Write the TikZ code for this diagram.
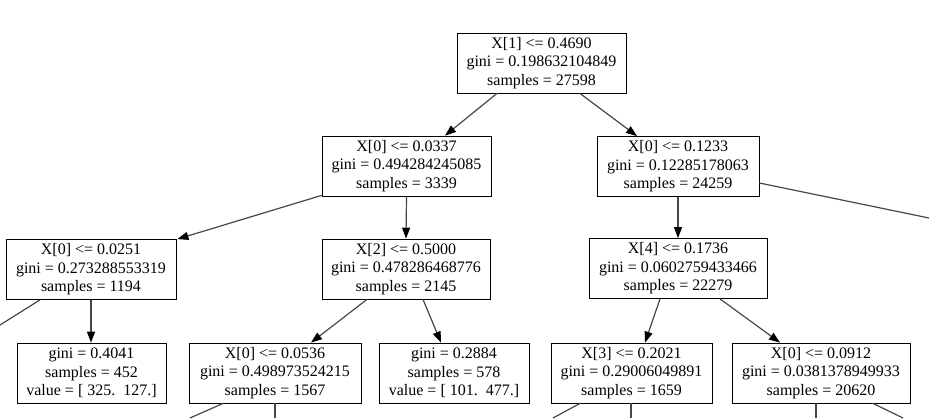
\documentclass[tikz,border=0pt]{standalone}
\usepackage{fontspec}
\setmainfont{Liberation Serif}
\usetikzlibrary{arrows.meta}
\tikzset{
  tbox/.style={draw=black, line width=0.8pt, align=center, inner sep=0pt,
    minimum height=60pt, font=\fontsize{16}{18.5}\selectfont},
  edge/.style={draw=black!72, line width=1.2pt,
    -{Triangle[length=11pt,width=8pt,fill=black,color=black]}},
  stub/.style={draw=black!72, line width=1.2pt}
}
\begin{document}
\begin{tikzpicture}[x=1pt,y=-1pt]
\useasboundingbox (0,0) rectangle (929,418);
\node[tbox, minimum width=169pt] (root) at (541.5,63) {X[1] <= 0.4690\\gini = 0.198632104849\\samples = 27598};
\node[tbox, minimum width=169pt] (n1) at (406.5,166) {X[0] <= 0.0337\\gini = 0.494284245085\\samples = 3339};
\node[tbox, minimum width=162pt] (n2) at (678,166.5) {X[0] <= 0.1233\\gini = 0.12285178063\\samples = 24259};
\node[tbox, minimum width=170pt] (n3) at (91,269.5) {X[0] <= 0.0251\\gini = 0.273288553319\\samples = 1194};
\node[tbox, minimum width=168pt] (n4) at (406,269) {X[2] <= 0.5000\\gini = 0.478286468776\\samples = 2145};
\node[tbox, minimum width=178pt] (n5) at (678,268.5) {X[4] <= 0.1736\\gini = 0.0602759433466\\samples = 22279};
\node[tbox, minimum width=149pt] (l1) at (91.5,373) {gini = 0.4041\\samples = 452\\value = [ 325.\ \ 127.]};
\node[tbox, minimum width=172pt] (n6) at (275,373) {X[0] <= 0.0536\\gini = 0.498973524215\\samples = 1567};
\node[tbox, minimum width=150pt] (l2) at (454,373) {gini = 0.2884\\samples = 578\\value = [ 101.\ \ 477.]};
\node[tbox, minimum width=161pt] (n7) at (631.5,373) {X[3] <= 0.2021\\gini = 0.29006049891\\samples = 1659};
\node[tbox, minimum width=178pt] (n8) at (821,373) {X[0] <= 0.0912\\gini = 0.0381378949933\\samples = 20620};
\coordinate (o2) at (929,218);
\coordinate (o3) at (0,325);
\coordinate (o6a) at (190,418);
\coordinate (o6b) at (275,418);
\coordinate (o7a) at (553,418);
\coordinate (o7b) at (631,418);
\coordinate (o8a) at (816,418);
\coordinate (o8b) at (903,418);
\draw[edge] ([xshift=-44.5pt]root.south) -- ([xshift=38.5pt]n1.north);
\draw[edge] ([xshift=38.5pt]root.south) -- ([xshift=-41pt]n2.north);
\draw[edge] ([yshift=1pt]n1.south west) -- ([xshift=1pt]n3.north east);
\draw[edge] (n1.south) -- (n4.north);
\draw[edge] (n2.south) -- (n5.north);
\draw[stub] ([yshift=-16.5pt]n2.east) -- (o2);
\draw[stub] ([xshift=-51pt]n3.south) -- (o3);
\draw[edge] (n3.south) -- ([xshift=-0.5pt]l1.north);
\draw[edge] ([xshift=-39pt]n4.south) -- ([xshift=36pt]n6.north);
\draw[edge] ([xshift=17pt]n4.south) -- ([xshift=-13pt]l2.north);
\draw[edge] ([xshift=-18pt]n5.south) -- ([xshift=13.5pt]n7.north);
\draw[edge] ([xshift=42pt]n5.south) -- ([xshift=-41pt]n8.north);
\draw[stub] ([xshift=-52pt]n6.south) -- (o6a);
\draw[stub] (n6.south) -- (o6b);
\draw[stub] ([xshift=-51.5pt]n7.south) -- (o7a);
\draw[stub] ([xshift=-0.5pt]n7.south) -- (o7b);
\draw[stub] ([xshift=-5pt]n8.south) -- (o8a);
\draw[stub] ([xshift=52pt]n8.south) -- (o8b);
\end{tikzpicture}
\end{document}
